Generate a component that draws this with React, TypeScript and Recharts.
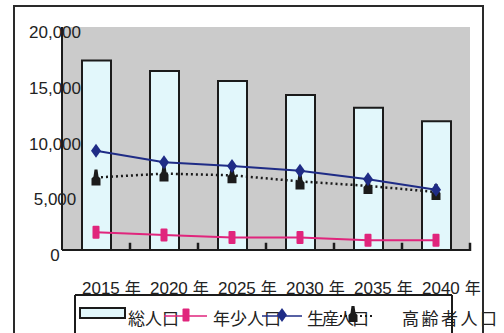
import React from 'react';
import {
  ComposedChart,
  Bar,
  Line,
  XAxis,
  YAxis,
  CartesianGrid,
  ReferenceArea,
} from 'recharts';

// Population projection (persons)
const years = ['2015 年', '2020 年', '2025 年', '2030 年', '2035 年', '2040 年'];
const totalPop = [17000, 16050, 15150, 13900, 12750, 11550];
const youthPop = [1600, 1350, 1130, 1130, 880, 880];
const workingPop = [8900, 7870, 7530, 7100, 6350, 5400];
const elderlyPop = [6500, 6850, 6700, 6150, 5750, 5200];
const yTicks = [0, 5000, 10000, 15000, 20000];

const data = years.map((year, i) => ({
  year,
  total: totalPop[i],
  youth: youthPop[i],
  working: workingPop[i],
  elderly: elderlyPop[i],
}));

const PINK = '#e0257c';
const NAVY = '#1f2c86';
const DARK = '#1b1b1b';
const BAR_FILL = '#e2f7fb';
const PLOT_BG = '#cbcbcb';
const FONT = '"Liberation Sans", Arial, "Noto Sans CJK JP", sans-serif';
const CJK = '"Noto Sans CJK JP", "Noto Sans CJK SC", sans-serif';

const MARGIN = { top: 27, right: 34, left: 0, bottom: 43 };
const Y_AXIS_W = 62;
const X_AXIS_H = 40;
const W = 504;
const H = 333;
const PLOT_H = H - MARGIN.top - MARGIN.bottom - X_AXIS_H;
// height of the boundary tick marks, in axis units
const TICK_SPAN = 650;

const fmt = (v: number) => v.toLocaleString('en-US');

const YTick = (props: any) => {
  const { y, payload } = props;
  return (
    <text x={55} y={y + 11} textAnchor="middle" fontSize={17} fontFamily={FONT} fill="#222">
      {fmt(payload.value)}
    </text>
  );
};

const XTick = (props: any) => {
  const { x, y, payload } = props;
  const [num, unit] = String(payload.value).split(' ');
  return (
    <text x={x - 14} y={y + 36} textAnchor="start" fontSize={17} fontFamily={FONT} fill="#222">
      <tspan>{num}</tspan>
      <tspan dx={5} fontFamily={CJK} fontSize={16}>
        {unit}
      </tspan>
    </text>
  );
};

// Tick mark on the right edge of a category band
const BoundaryTick = (p: any) => {
  if (p == null || p.x == null) return null;
  const xr = p.x + p.width;
  return <line x1={xr} y1={p.y} x2={xr} y2={p.y + p.height + 1} stroke={DARK} strokeWidth={2.5} />;
};

const PinkRect = ({ cx, cy }: any) =>
  cx == null ? null : <rect x={cx - 3.5} y={cy - 6.5} width={7} height={13} rx={1} fill={PINK} />;

const NavyDiamond = ({ cx, cy }: any) =>
  cx == null ? null : (
    <path d={`M${cx},${cy - 7} L${cx + 5},${cy} L${cx},${cy + 7} L${cx - 5},${cy} Z`} fill={NAVY} />
  );

const BlackBell = ({ cx, cy }: any) =>
  cx == null ? null : (
    <path
      d={`M${cx - 1.5},${cy - 8} L${cx + 1.5},${cy - 8} L${cx + 2.5},${cy - 1} L${cx + 4.5},${cy + 1} L${cx + 4.5},${cy + 8} L${cx - 4.5},${cy + 8} L${cx - 4.5},${cy + 1} L${cx - 2.5},${cy - 1} Z`}
      fill={DARK}
    />
  );

const legendText = (x: number, label: string, spacing = 0) => (
  <text x={x} y={325} fontSize={17} fontFamily={CJK} fill="#222" letterSpacing={spacing}>
    {label}
  </text>
);

const LegendBox = () => (
  <svg width={W} height={H} style={{ position: 'absolute', left: 0, top: 0, overflow: 'visible' }}>
    <rect x={80} y={308} width={45} height={10} fill={BAR_FILL} stroke={DARK} strokeWidth={2} />
    {legendText(128, '総人口')}
    <line x1={164} y1={316} x2={207} y2={316} stroke={PINK} strokeWidth={1.5} />
    <PinkRect cx={186} cy={315} />
    {legendText(213, '年少人口')}
    <line x1={262} y1={316} x2={302} y2={316} stroke={NAVY} strokeWidth={1.5} />
    <NavyDiamond cx={282} cy={315} />
    {legendText(307, '生産人口', -2)}
    <line x1={340} y1={316} x2={374} y2={316} stroke={DARK} strokeWidth={2} strokeDasharray="2 3" />
    <BlackBell cx={353} cy={314} />
    {legendText(402, '高齢者人口', 2.5)}
    <line x1={75} y1={295} x2={452} y2={295} stroke={DARK} strokeWidth={2} />
    <line x1={75} y1={295} x2={75} y2={340} stroke={DARK} strokeWidth={2} />
    <line x1={452} y1={295} x2={452} y2={340} stroke={DARK} strokeWidth={2} />
  </svg>
);

export default function App() {
  return (
    <div style={{ position: 'absolute', left: 0, top: 0, width: W, height: H, background: '#fff', overflow: 'hidden' }}>
      {/* plot-area backdrop, sitting under the chart svg */}
      <div
        style={{
          position: 'absolute',
          left: MARGIN.left + Y_AXIS_W,
          top: MARGIN.top,
          width: W - MARGIN.left - MARGIN.right - Y_AXIS_W,
          height: PLOT_H,
          background: PLOT_BG,
        }}
      />
      <div style={{ position: 'absolute', left: 0, top: 0 }}>
        <ComposedChart width={W} height={H} data={data} margin={MARGIN}>
          <CartesianGrid
            stroke="#8e8e8e"
            strokeWidth={1.5}
            vertical={false}
            horizontalValues={[20000]}
          />
          <XAxis
            dataKey="year"
            tickLine={false}
            axisLine={{ stroke: DARK, strokeWidth: 2 }}
            tick={<XTick />}
            interval={0}
            height={X_AXIS_H}
          />
          <YAxis
            yAxisId="left"
            domain={[0, 20000]}
            ticks={yTicks}
            width={Y_AXIS_W}
            tickLine={false}
            axisLine={{ stroke: DARK, strokeWidth: 2 }}
            tick={<YTick />}
          />
          <YAxis
            yAxisId="right"
            orientation="right"
            domain={[0, 20000]}
            width={0}
            tick={false}
            tickLine={false}
            axisLine={{ stroke: '#8e8e8e', strokeWidth: 1.5 }}
          />
          {years.map((yr) => (
            <ReferenceArea
              key={yr}
              x1={yr}
              x2={yr}
              y1={0}
              y2={TICK_SPAN}
              yAxisId="left"
              shape={<BoundaryTick />}
              ifOverflow="visible"
            />
          ))}
          <Bar
            dataKey="total"
            yAxisId="left"
            barSize={29}
            fill={BAR_FILL}
            stroke={DARK}
            strokeWidth={2}
            isAnimationActive={false}
          />
          <Line
            dataKey="youth"
            yAxisId="left"
            type="linear"
            stroke={PINK}
            strokeWidth={2}
            dot={<PinkRect />}
            activeDot={false}
            isAnimationActive={false}
          />
          <Line
            dataKey="elderly"
            yAxisId="left"
            type="linear"
            stroke={DARK}
            strokeWidth={2.5}
            strokeDasharray="2 3"
            dot={<BlackBell />}
            activeDot={false}
            isAnimationActive={false}
          />
          <Line
            dataKey="working"
            yAxisId="left"
            type="linear"
            stroke={NAVY}
            strokeWidth={2}
            dot={<NavyDiamond />}
            activeDot={false}
            isAnimationActive={false}
          />
        </ComposedChart>
      </div>
      <LegendBox />
      {/* outer frame */}
      <div
        style={{
          position: 'absolute',
          left: 13,
          top: 5,
          width: 467,
          height: 340,
          border: '2px solid #2a2a2a',
          pointerEvents: 'none',
        }}
      />
    </div>
  );
}
